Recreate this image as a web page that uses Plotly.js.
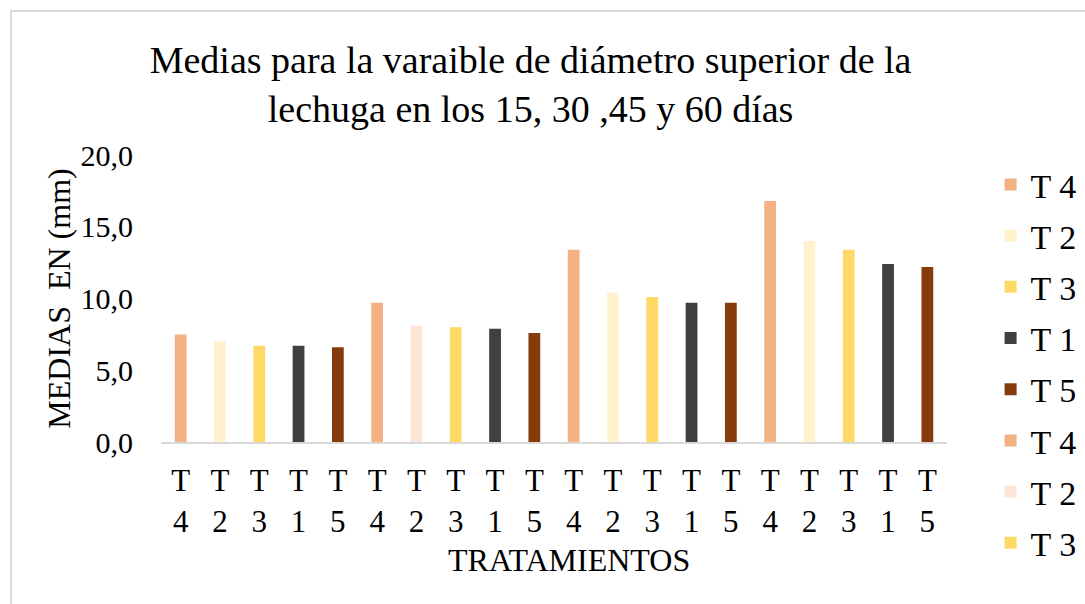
<!DOCTYPE html>
<html>
<head>
<meta charset="utf-8">
<script src="https://cdn.plot.ly/plotly-3.0.1.min.js"></script>
<style>
  html, body { margin: 0; padding: 0; background: #ffffff; overflow: hidden; }
  #chart { position: absolute; left: 0; top: 0; width: 1085px; height: 604px; }
  #frame { position: absolute; left: 10px; top: 10px; width: 2000px; height: 2000px;
           border-left: 2px solid #d9d9d9; border-top: 2px solid #d9d9d9; pointer-events: none; }
</style>
</head>
<body>
<div id="chart"></div>
<div id="frame"></div>
<script>
// Treatment of each bar (4 sampling dates x 5 treatments: 15, 30, 45, 60 days)
const treatments = ["T 4", "T 2", "T 3", "T 1", "T 5",
                    "T 4", "T 2", "T 3", "T 1", "T 5",
                    "T 4", "T 2", "T 3", "T 1", "T 5",
                    "T 4", "T 2", "T 3", "T 1", "T 5"];
// Mean upper diameter values
const means = [7.5, 7.0, 6.7, 6.7, 6.6,
               9.7, 8.1, 8.0, 7.9, 7.6,
               13.4, 10.4, 10.1, 9.7, 9.7,
               16.8, 14.0, 13.4, 12.4, 12.2];
// Bar colours
const barColors = ["#F4B183", "#FFF2CC", "#FFD966", "#404040", "#843C0C",
                   "#F4B183", "#FBE5D6", "#FFD966", "#404040", "#843C0C",
                   "#F4B183", "#FFF2CC", "#FFD966", "#404040", "#843C0C",
                   "#F4B183", "#FFF2CC", "#FFD966", "#404040", "#843C0C"];
const yTicks = [0, 5, 10, 15, 20];
const titleText = "Medias para la varaible de diámetro superior de la<br>lechuga en los 15, 30 ,45 y 60 días";
const yTitle = "MEDIAS  EN (mm)";
const xTitle = "TRATAMIENTOS";

const FONT = "Liberation Serif, Times New Roman, serif";
const positions = treatments.map((_, i) => i);
const tickText = treatments.map(t => t.replace(" ", "<br>"));
const legendShown = 8;

const traces = treatments.map((name, i) => ({
  type: "bar",
  x: [positions[i]],
  y: [means[i]],
  name: name,
  width: 0.3,
  marker: { color: barColors[i], line: { width: 0 } },
  showlegend: i < legendShown,
  legendgroup: "g" + i,
  hoverinfo: "y+name"
}));

const layout = {
  width: 1085,
  height: 604,
  paper_bgcolor: "#ffffff",
  plot_bgcolor: "#ffffff",
  barmode: "overlay",
  separators: ", ",
  font: { family: FONT, color: "#000000", size: 31 },
  margin: { l: 161, r: 138, t: 155, b: 162, pad: 0 },
  title: {
    text: titleText,
    font: { family: FONT, size: 38, color: "#000000" },
    x: 0.489, xanchor: "center",
    xref: "container", yref: "container",
    y: 0.879, yanchor: "middle"
  },
  xaxis: {
    range: [-0.5, 19.5],
    tickmode: "array",
    tickvals: positions,
    ticktext: tickText,
    showgrid: false,
    zeroline: false,
    showline: true,
    linecolor: "#d9d9d9",
    linewidth: 2,
    ticks: "outside",
    ticklen: 10,
    tickcolor: "rgba(0,0,0,0)",
    tickfont: { family: FONT, size: 31, color: "#000000" }
  },
  yaxis: {
    range: [0, 20],
    tickmode: "array",
    tickvals: yTicks,
    tickformat: ".1f",
    showgrid: false,
    zeroline: false,
    showline: false,
    ticks: "outside",
    ticklen: 21,
    tickcolor: "rgba(0,0,0,0)",
    tickfont: { family: FONT, size: 30, color: "#000000" },
    title: { text: yTitle, font: { family: FONT, size: 32, color: "#000000" }, standoff: 0 }
  },
  annotations: [{
    text: xTitle,
    xref: "paper", yref: "paper",
    x: 0.519, y: -0.412,
    xanchor: "center", yanchor: "middle",
    showarrow: false,
    font: { family: FONT, size: 32, color: "#000000" }
  }],
  legend: {
    xref: "container", yref: "container",
    x: 0.913, xanchor: "left",
    y: 0.742, yanchor: "top",
    maxheight: 460,
    font: { family: FONT, size: 34, color: "#000000" },
    tracegroupgap: 4,
    itemwidth: 30,
    bgcolor: "rgba(0,0,0,0)"
  },
  showlegend: true
};

Plotly.newPlot("chart", traces, layout, { displayModeBar: false, staticPlot: true });
</script>
</body>
</html>
